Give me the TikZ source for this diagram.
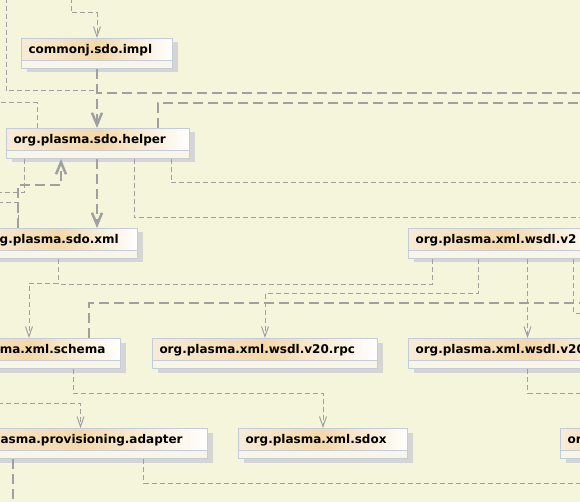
\documentclass[tikz,border=0pt]{standalone}
\usepackage{fontspec}
\setsansfont{DejaVu Sans}
\usetikzlibrary{arrows.meta, positioning, shadows}
\definecolor{canvas}{HTML}{F5F5DC}
\definecolor{pkgedge}{HTML}{C4CBDF}
\definecolor{pkgleft}{HTML}{F8EBD6}
\definecolor{pkgmid}{HTML}{F4D8A8}
\definecolor{pkglow}{HTML}{F8F6E6}
\definecolor{pkgshadow}{HTML}{D5D5D2}
\definecolor{wire}{HTML}{A0A0A0}
\tikzstyle{pkg} = [draw=pkgedge, line width=1pt, anchor=north west, inner xsep=7pt, inner ysep=0pt, text height=15pt, text depth=15pt, align=left, font=\sffamily\bfseries\fontsize{12}{14}\selectfont, left color=pkgleft, right color=white, middle color=pkgmid, drop shadow={shadow xshift=5pt, shadow yshift=-4pt, fill=pkgshadow, opacity=1}, path picture={\fill[pkglow] ([yshift=-22pt]path picture bounding box.north west) rectangle (path picture bounding box.south east); \draw[pkgedge, line width=1pt] ([yshift=-22pt]path picture bounding box.north west) -- ([yshift=-22pt]path picture bounding box.north east);}]
\tikzstyle{dep} = [draw=wire, line width=1pt, dash pattern=on 5pt off 3pt]
\tikzstyle{deptip} = [dep, -{Straight Barb[length=10pt, width=7pt]}]
\tikzstyle{imp} = [draw=wire, line width=2.5pt, dash pattern=on 10pt off 5pt]
\tikzstyle{imptip} = [imp, -{Straight Barb[length=12pt, width=10pt]}]

\begin{document}
\begin{tikzpicture}[x=1pt, y=-1pt]
    \path [fill=canvas, use as bounding box] (0,0) rectangle (580,502);
    \clip (0,0) rectangle (580,502);

    % Packages.
    \node (impl) [pkg, text width=137pt] at (21,38) {commonj.sdo.impl};
    \node (helper) [pkg, text width=169pt] at (6,128) {org.plasma.sdo.helper};
    \node (sdoxml) [pkg, text width=145pt] at (-22,228) {org.plasma.sdo.xml};
    \node (wsdlv2) [pkg, text width=176pt, right=270pt of sdoxml] {org.plasma.xml.wsdl.v2};
    \node (schema) [pkg, text width=169pt] at (-63,338) {org.plasma.xml.schema};
    \node (rpc) [pkg, text width=211pt, right=31pt of schema] {org.plasma.xml.wsdl.v20.rpc};
    \node (wsdlv20) [pkg, text width=224pt, right=30pt of rpc] {org.plasma.xml.wsdl.v20};
    \node (adapter) [pkg, text width=240pt] at (-47,428) {org.plasma.provisioning.adapter};
    \node (sdox) [pkg, text width=155pt, right=30pt of adapter] {org.plasma.xml.sdox};
    \node (orx) [pkg, text width=106pt, right=152pt of sdox] {org.plasma};

    % Loose ends at the frame.
    \coordinate (topA) at (71,-2);
    \coordinate (topB) at (6,-2);
    \coordinate (eastA) at (582,93);
    \coordinate (eastB) at (582,103);
    \coordinate (eastC) at (582,183);
    \coordinate (eastD) at (582,218);
    \coordinate (eastE) at (582,303);
    \coordinate (eastF) at (582,313);
    \coordinate (eastG) at (582,393);
    \coordinate (eastH) at (582,483);
    \coordinate (westA) at (-2,103);
    \coordinate (westB) at (-2,193);
    \coordinate (westC) at (-2,203);
    \coordinate (westD) at (-2,403);
    \coordinate (southA) at (13,504);

    % Dependencies.
    \draw [deptip] (topA) |- ([yshift=25pt]impl.north) -- (impl.north);
    \draw [dep] (topB) |- ([yshift=-22pt]impl.south);
    \draw [imptip] (impl.south) -- (impl.south |- helper.north);
    \draw [imp] (eastA) -- (impl.south |- eastA);
    \draw [imp] ([xshift=60pt]helper.north) |- (eastB);
    \draw [dep] ([xshift=-61pt]helper.north) |- (westA);
    \draw [dep] ([xshift=-74pt]helper.south) |- (westB);
    \draw [imptip] ([xshift=-40pt]sdoxml.north) |- ([xshift=-37pt, yshift=-26pt]helper.south) -- ([xshift=-37pt]helper.south);
    \draw [dep] (westC) -| ([xshift=-40pt]sdoxml.north);
    \draw [dep] ([xshift=36pt]helper.south) |- (eastD);
    \draw [dep] ([xshift=73pt]helper.south) |- (eastC);
    \draw [imptip] (impl.south |- helper.south) -- (impl.south |- sdoxml.north);
    \draw [deptip] (sdoxml.south) |- ([yshift=55pt]schema.north) -- (schema.north);
    \draw [dep] ([xshift=-71pt]wsdlv2.south) |- ([yshift=-25pt]sdoxml.south);
    \draw [deptip] ([xshift=-25pt]wsdlv2.south) |- ([yshift=45pt]rpc.north) -- (rpc.north);
    \draw [imp] ([xshift=60pt]schema.north) |- (eastE);
    \draw [deptip] (wsdlv20.north |- wsdlv2.south) -- (wsdlv20.north);
    \draw [dep] ([xshift=70pt]wsdlv2.south) |- (eastF);
    \draw [deptip] ([xshift=44pt]schema.south) |- ([yshift=35pt]sdox.north) -- (sdox.north);
    \draw [deptip] (westD) -| (adapter.north);
    \draw [dep] (wsdlv20.south) |- (eastG);
    \draw [imp] (southA |- adapter.south) -- (southA);
    \draw [dep] ([xshift=63pt]adapter.south) |- (eastH);
\end{tikzpicture}
\end{document}
